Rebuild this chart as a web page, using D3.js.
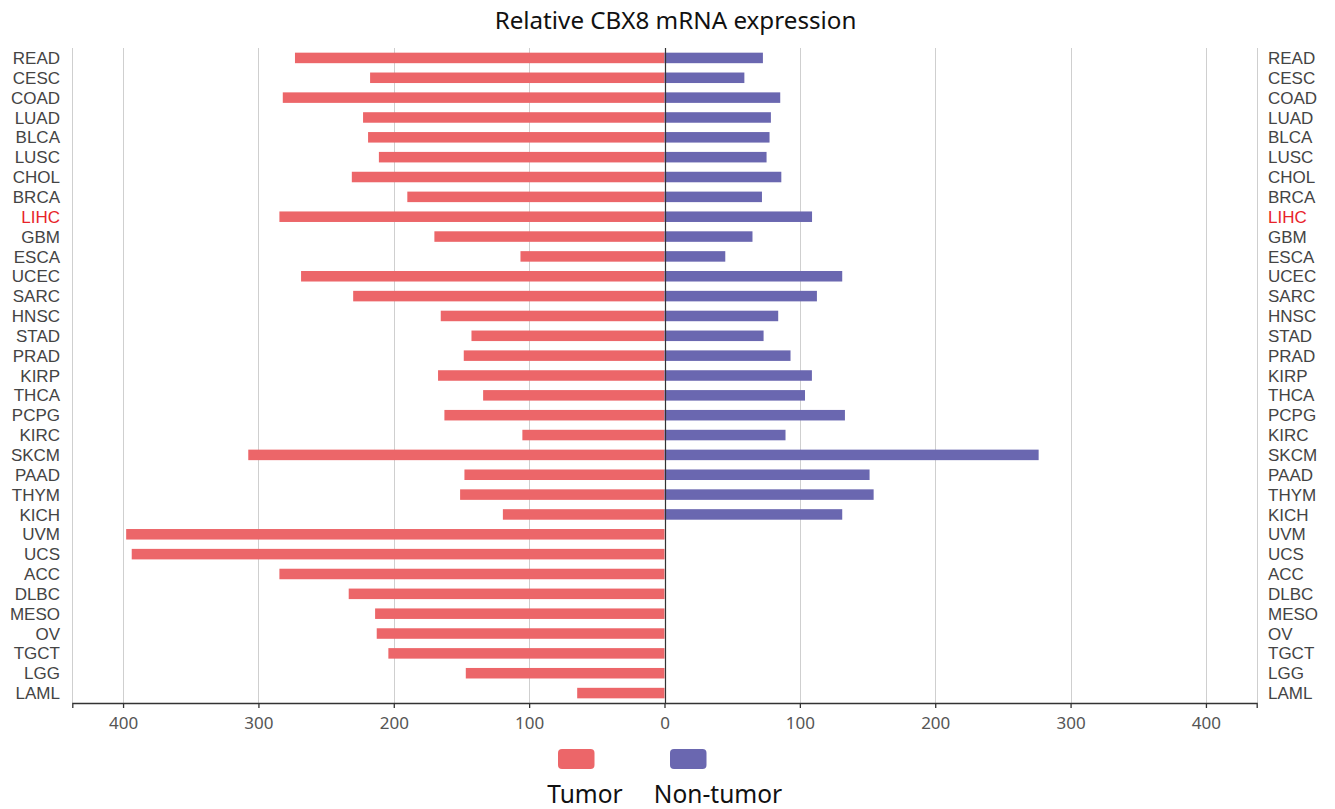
<!DOCTYPE html>
<html>
<head>
<meta charset="utf-8">
<script src="https://cdn.jsdelivr.net/npm/d3@7"></script>
<style>
  html, body { margin: 0; padding: 0; background: #fff; }
  svg { display: block; font-family: "Noto Sans", "Open Sans", sans-serif; }
</style>
</head>
<body>
<svg id="chart" width="1335" height="809"></svg>
<script>
const categories = ["READ","CESC","COAD","LUAD","BLCA","LUSC","CHOL","BRCA","LIHC","GBM","ESCA","UCEC","SARC","HNSC","STAD","PRAD","KIRP","THCA","PCPG","KIRC","SKCM","PAAD","THYM","KICH","UVM","UCS","ACC","DLBC","MESO","OV","TGCT","LGG","LAML"];
const tumor = [273,217.5,282,222.7,219,211,231,190,284.5,170,106.4,268.5,230,165.3,142.6,148.3,167.3,134,162.6,105,307.5,147.8,151,119.4,397.7,393.6,284.5,233.3,213.8,212.6,204,146.8,64.5];
const nonTumor = [72.7,59,85.5,78.6,77.6,75.4,86.3,72,109,65,44.9,131.3,112.6,84,73.2,93.1,108.9,103.8,133.3,89.4,276.4,151.5,154.5,131.3,null,null,null,null,null,null,null,null,null];
const tickValues = [-400,-300,-200,-100,0,100,200,300,400];
const highlight = "LIHC";
const seriesNames = ["Tumor","Non-tumor"];
const colors = ["#EC6669","#6A67B0"];

const svg = d3.select("#chart");
const pLeft = 72.3, pRight = 1256.7, pTop = 48, pBottom = 703;

const x = d3.scaleLinear().domain([-437.5, 437.5]).range([pLeft, pRight]);
const y = d3.scaleBand().domain(categories).range([pTop, pBottom]).paddingInner(0.47).paddingOuter(0.235);

// title
svg.append("text").attr("x", 675.5).attr("y", 29).attr("text-anchor", "middle")
  .attr("font-size", 24.2).attr("fill", "#111").text("Relative CBX8 mRNA expression");

// gridlines
const grid = tickValues.filter(v => v !== 0).concat(x.domain());
svg.append("g").selectAll("line").data(grid).join("line")
  .attr("x1", d => Math.round(x(d)) + 0.5).attr("x2", d => Math.round(x(d)) + 0.5)
  .attr("y1", pTop).attr("y2", pBottom)
  .attr("stroke", "#cfcfcf").attr("stroke-width", 1);

// bars
svg.append("g").selectAll("rect").data(categories.map((c, i) => ({c, v: tumor[i]}))).join("rect")
  .attr("x", d => x(-d.v)).attr("width", d => x(0) - x(-d.v))
  .attr("y", d => y(d.c)).attr("height", y.bandwidth())
  .attr("fill", colors[0]);
svg.append("g").selectAll("rect").data(categories.map((c, i) => ({c, v: nonTumor[i]})).filter(d => d.v != null)).join("rect")
  .attr("x", x(0)).attr("width", d => x(d.v) - x(0))
  .attr("y", d => y(d.c)).attr("height", y.bandwidth())
  .attr("fill", colors[1]);

// zero line
svg.append("line").attr("x1", Math.round(x(0)) + 0.5).attr("x2", Math.round(x(0)) + 0.5)
  .attr("y1", pTop).attr("y2", pBottom).attr("stroke", "#333").attr("stroke-width", 1.2);

// x axis
const xAxis = svg.append("g").attr("transform", `translate(0,${pBottom})`)
  .call(d3.axisBottom(x).tickValues(tickValues).tickFormat(d => Math.abs(d)).tickSize(5).tickSizeOuter(5));
xAxis.select(".domain").attr("stroke", "#333").attr("stroke-width", 1.3);
xAxis.selectAll(".tick line").attr("stroke", "#333").attr("stroke-width", 1.3);
xAxis.selectAll(".tick text").attr("font-size", 17).attr("fill", "#555").attr("y", 26).attr("dy", 0)
  .attr("font-family", "'Noto Sans', 'Open Sans', sans-serif");

// category labels left and right
const lbl = (anchor, xp) => svg.append("g").selectAll("text").data(categories).join("text")
  .attr("x", xp).attr("y", d => y(d) + y.bandwidth() / 2).attr("dy", "0.36em")
  .attr("text-anchor", anchor).attr("font-size", 17)
  .attr("font-family", "'Liberation Sans', Arial, sans-serif")
  .attr("fill", d => d === highlight ? "#E8232A" : "#444").text(d => d);
lbl("end", 60);
lbl("start", 1268);

// legend
const legX = [558, 670];
const legTextX = [585, 718];
seriesNames.forEach((s, i) => {
  svg.append("rect").attr("x", legX[i]).attr("y", 749).attr("width", 36.5).attr("height", 20)
    .attr("rx", 4).attr("fill", colors[i]);
  svg.append("text").attr("x", legTextX[i]).attr("y", 803).attr("text-anchor", "middle")
    .attr("font-size", 24.5).attr("fill", "#111").text(s);
});
</script>
</body>
</html>
